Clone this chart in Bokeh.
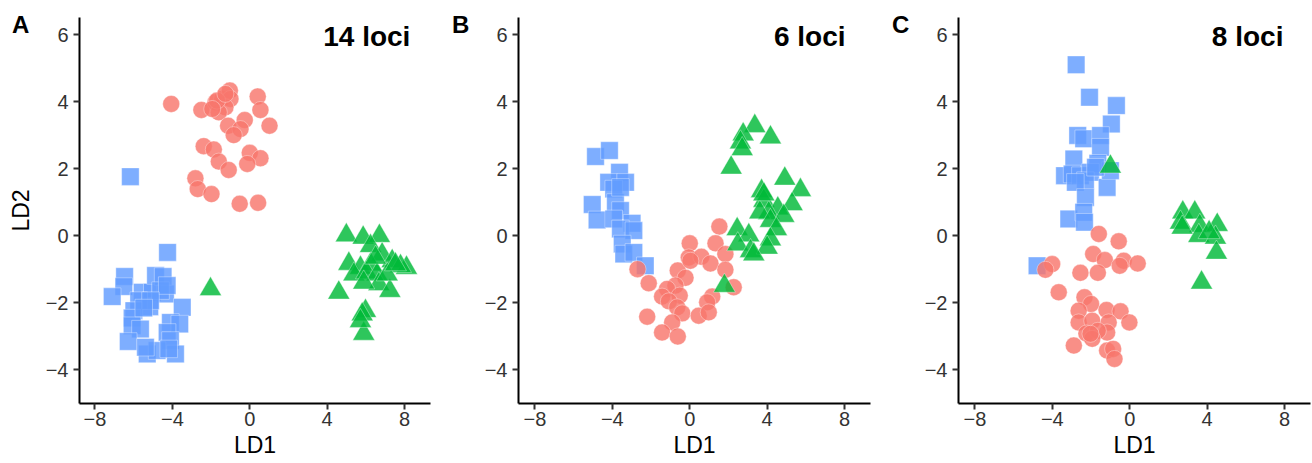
from bokeh.plotting import figure
from bokeh.layouts import GridBox
from bokeh.models import Label, FixedTicker, Range1d, LinearAxis, Div
from bokeh.embed import file_html
from bokeh.resources import INLINE

# ---------------- data ----------------
panel_letters = ["A", "B", "C"]
panel_titles = ["14 loci", "6 loci", "8 loci"]
x_ticks = [-8, -4, 0, 4, 8]
y_ticks = [-4, -2, 0, 2, 4, 6]

A_blue_x = [-4.25, -6.47, -6.51, -7.11, -5.56, -5.04, -4.87, -4.48, -4.36, -5.17, -5.74, -3.49, -5.99, -6.08, -6.08, -5.65, -6.28, -4.10, -3.62, -4.27, -4.10, -5.30, -4.79, -3.84, -4.19, -5.39, -4.61, -4.27, -5.13, -5.48, -6.17]
A_blue_y = [-0.50, -1.22, -1.52, -1.82, -1.69, -1.69, -1.19, -1.22, -1.74, -2.12, -1.94, -2.14, -2.24, -2.46, -2.69, -2.79, -3.16, -2.59, -2.64, -2.89, -3.13, -3.53, -3.43, -3.53, -3.38, -3.33, -1.64, -1.49, -1.94, -2.16, 1.76]
A_red_x = [-4.06, -2.50, -1.77, -1.43, -1.03, -1.00, -1.26, -1.60, 0.41, 0.55, -0.26, 1.02, -1.12, -0.48, -0.83, -2.38, -1.86, 0.00, 0.55, -1.60, -1.09, -0.13, -2.81, -2.69, -1.98, -0.52, 0.43, -1.69, -1.26, -1.94]
A_red_y = [3.93, 3.75, 3.98, 4.08, 4.33, 4.08, 3.83, 3.68, 4.15, 3.75, 3.45, 3.28, 3.28, 3.18, 3.00, 2.67, 2.57, 2.47, 2.31, 2.21, 1.96, 2.14, 1.71, 1.39, 1.24, 0.95, 0.98, 4.03, 4.23, 3.78]
A_green_x = [4.99, 5.86, 6.70, 6.24, 6.84, 7.36, 8.10, 7.79, 5.12, 5.72, 6.24, 5.38, 6.03, 6.58, 6.67, 7.24, 4.60, 5.98, 5.81, 5.89, 7.10, 7.53, 6.50, 5.89, 5.72, -2.03]
A_green_y = [0.01, -0.06, -0.01, -0.31, -0.56, -0.76, -0.96, -0.91, -0.84, -0.96, -0.86, -1.16, -1.10, -1.16, -1.45, -1.65, -1.70, -2.25, -2.35, -2.93, -1.16, -0.86, -0.66, -1.40, -2.55, -1.60]

B_blue_x = [-4.87, -4.15, -3.63, -4.19, -3.32, -3.93, -5.04, -4.79, -3.84, -3.58, -3.93, -2.98, -3.58, -2.89, -3.49, -3.41, -2.89, -2.30, -3.58]
B_blue_y = [2.36, 2.54, 1.89, 1.59, 1.59, 1.39, 0.93, 0.47, 0.99, 0.75, 0.50, 0.37, 0.20, 0.15, -0.25, -0.55, -0.50, -0.90, 1.44]
B_red_x = [1.53, 0.00, 1.33, -0.05, 0.60, 1.07, 1.84, 1.84, -0.62, -0.22, -2.12, -0.74, -1.17, -1.43, -0.52, -1.08, 1.16, 0.90, 2.27, -0.65, -0.39, -2.20, 0.46, 0.98, -0.91, -1.43, -0.62, -2.70, 0.03]
B_red_y = [0.27, -0.23, -0.23, -0.65, -0.63, -0.83, -0.55, -1.02, -1.04, -1.26, -1.42, -1.49, -1.59, -1.82, -1.79, -1.96, -1.82, -1.99, -1.54, -2.14, -2.32, -2.42, -2.39, -2.29, -2.59, -2.89, -3.01, -1.00, -0.75]
B_green_x = [3.36, 2.76, 4.17, 2.62, 2.14, 4.91, 5.72, 3.71, 3.83, 5.29, 4.55, 4.08, 4.86, 3.62, 4.17, 2.45, 4.48, 3.05, 4.17, 2.48, 3.14, 4.00, 1.79, 2.71, 3.31, 3.83]
B_green_y = [3.27, 3.02, 2.93, 2.78, 2.03, 1.70, 1.36, 1.33, 1.04, 0.94, 0.81, 0.67, 0.59, 0.69, 0.44, 0.19, 0.19, 0.01, -0.11, -0.26, -0.46, -0.36, -1.50, 2.58, -0.56, 1.23]

C_blue_x = [-2.77, -2.08, -0.69, -0.95, -2.69, -2.38, -1.51, -1.51, -2.89, -1.65, -3.37, -2.98, -2.55, -2.03, -2.29, -2.81, -1.17, -1.00, -2.29, -3.15, -2.38, -1.77, -2.34, -4.79]
C_blue_y = [5.10, 4.13, 3.88, 3.33, 2.99, 2.89, 2.99, 2.64, 2.29, 2.16, 1.79, 1.84, 1.79, 1.89, 1.64, 1.59, 1.44, 1.94, 1.14, 0.50, 0.70, 2.04, 0.40, -0.90]
C_red_x = [-1.60, -0.57, -1.89, -1.29, -0.31, 0.41, -0.52, -4.01, -4.36, -2.55, -1.65, -3.67, -2.34, -2.00, -2.64, -1.20, -0.48, -2.64, -1.94, -1.09, -0.02, -2.24, -1.17, -1.65, -1.94, -2.89, -2.03, -1.17, -0.86, -0.79]
C_red_y = [0.05, -0.17, -0.55, -0.73, -0.75, -0.83, -0.90, -0.85, -1.02, -1.11, -1.11, -1.69, -1.84, -2.04, -2.24, -2.22, -2.26, -2.59, -2.54, -2.59, -2.59, -2.92, -2.89, -2.84, -3.08, -3.28, -2.93, -3.43, -3.38, -3.68]
C_green_x = [2.74, 3.36, 2.62, 3.62, 4.52, 2.71, 3.57, 4.43, 4.48, 3.71, 4.10, -1.00]
C_green_y = [0.69, 0.69, 0.39, 0.29, 0.32, 0.24, -0.01, -0.06, -0.51, -1.40, 0.10, 2.06]

panels = [
    (A_blue_x, A_blue_y, A_red_x, A_red_y, A_green_x, A_green_y),
    (B_blue_x, B_blue_y, B_red_x, B_red_y, B_green_x, B_green_y),
    (C_blue_x, C_blue_y, C_red_x, C_red_y, C_green_x, C_green_y),
]

RED = "#F8766D"
GREEN = "#00BA38"
BLUE = "#619CFF"
FONT = "Liberation Sans"
TXT = "#333333"

widths = [440, 440, 432]
borders_left = [79, 78, 78]
borders_right = [10, 10, 2]
x_starts = [-8.80, -8.85, -8.85]
x_ends = [9.34, 9.34, 9.34]
title_x = [8.30, 8.05, 7.94]
title_y = 5.94
H = 463

children = []
for i in range(3):
    bx, by, rx, ry, gx, gy = panels[i]
    p = figure(width=widths[i], height=H, output_backend="svg", toolbar_location=None,
               x_range=Range1d(x_starts[i], x_ends[i]), y_range=Range1d(-5.01, 6.51),
               x_axis_location=None, y_axis_location=None,
               min_border_left=borders_left[i], min_border_right=borders_right[i],
               min_border_top=17, min_border_bottom=60)
    p.outline_line_color = None
    p.grid.visible = False
    p.background_fill_color = "white"
    p.border_fill_color = "white"

    p.scatter(bx, by, marker="square", size=17.5, fill_color=BLUE, fill_alpha=0.82,
              line_color="white", line_alpha=0.45, line_width=0.8)
    p.scatter(rx, ry, marker="circle", size=17, fill_color=RED, fill_alpha=0.82,
              line_color="white", line_alpha=0.45, line_width=0.8)
    p.scatter(gx, gy, marker="triangle", size=22, fill_color=GREEN, fill_alpha=0.82,
              line_color="white", line_alpha=0.45, line_width=0.8)

    xa = LinearAxis(ticker=FixedTicker(ticks=x_ticks))
    ya = LinearAxis(ticker=FixedTicker(ticks=y_ticks))
    for ax in (xa, ya):
        ax.minor_tick_line_color = None
        ax.axis_line_color = "black"
        ax.axis_line_width = 2
        ax.major_tick_line_color = "#333333"
        ax.major_tick_line_width = 2
        ax.major_tick_in = 0
        ax.major_tick_out = 6
        ax.major_label_text_font = FONT
        ax.major_label_text_font_size = "20px"
        ax.major_label_text_color = TXT
        ax.axis_label_text_font = FONT
        ax.axis_label_text_font_size = "23px"
        ax.axis_label_text_font_style = "normal"
        ax.axis_label_text_color = "black"
    ya.major_label_standoff = 5
    xa.major_label_standoff = 2
    xa.axis_label = "LD1"
    xa.axis_label_standoff = 3
    if i == 0:
        ya.axis_label = "LD2"
        ya.axis_label_standoff = 9
    p.add_layout(xa, "below")
    p.add_layout(ya, "left")

    p.add_layout(Label(x=title_x[i], y=title_y,
                       text=panel_titles[i], text_font=FONT, text_font_size="28px",
                       text_font_style="bold", text_color="black",
                       text_align="right", text_baseline="alphabetic"))
    children.append((p, 0, i))

    letter = Div(text=panel_letters[i], width=40, height=40, margin=0,
                 styles={"font-family": FONT, "font-size": "24px", "font-weight": "bold",
                         "color": "black", "line-height": "24px",
                         "padding-left": "12px", "padding-top": "13px",
                         "pointer-events": "none"})
    children.append((letter, 0, i))

layout = GridBox(children=children, spacing=0)
open("out.html", "w").write(file_html(layout, INLINE))
